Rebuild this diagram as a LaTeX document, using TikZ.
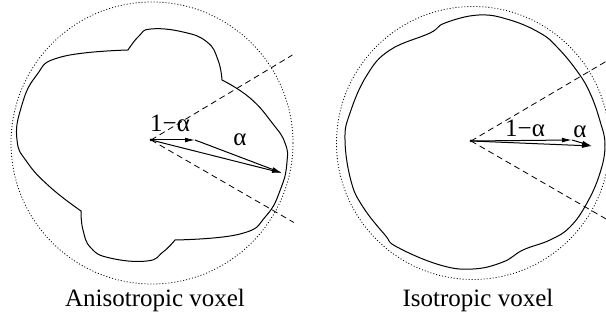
\documentclass[tikz,border=0pt]{standalone}
\usepackage{fontspec}
\setmainfont{Liberation Serif}
\usetikzlibrary{arrows.meta}
\tikzset{outline/.style={line width=.5pt},
 bound/.style={dash pattern=on .5pt off 1pt,line width=.4pt},
 cone/.style={dash pattern=on 3pt off 2pt,line width=.4pt},
 vec/.style={-{Latex[length=5pt,width=2.4pt]},line width=.5pt},
 every node/.style={font=\fontsize{12.5}{15}\selectfont,inner sep=1pt}}
\begin{document}
\begin{tikzpicture}[x=.5pt,y=.5pt]
\clip (0,0) rectangle (606,320);
% anisotropic voxel
\begin{scope}[shift={(151,180)}]
\coordinate (ac) at (0,0);
\coordinate (ap) at (44,0);
\coordinate (aq) at (131,-33);
\draw[bound] (1,-3) circle (141);
\draw[outline] plot[smooth,tension=.8] coordinates {(-23,90) (-12,104) (0,111) (32,108) (56,98) (67,80) (71,60)}
 -- plot[smooth,tension=.8] coordinates {(71,60) (99,42) (122,16) (134,-3) (136,-22) (130,-48) (115,-76) (89,-94) (24,-100)}
 -- plot[smooth,tension=.8] coordinates {(24,-100) (12,-112) (-4,-121) (-41,-118) (-60,-108) (-68,-90) (-70,-71)}
 -- plot[smooth,tension=.8] coordinates {(-70,-71) (-101,-47) (-124,-22) (-134,0) (-130,32) (-115,64) (-90,83) (-23,90)}
 -- cycle;
\draw[cone] (ac) -- (31:165);
\draw[cone] (ac) -- (-30:165);
\draw[vec] (ac) -- (ap);
\draw[vec] (ap) -- (aq);
\draw[vec] (ac) -- (aq);
\fill (ac) circle (1.5);
\node (aone) at (19,17) {1−α};
\node (aalpha) at (89,0) {α};
\node (acap) at (4,-160) {Anisotropic voxel};
\end{scope}
% isotropic voxel
\begin{scope}[shift={(471,179)}]
\coordinate (ic) at (0,0);
\coordinate (ip) at (101,1);
\coordinate (iq) at (121,-5);
\draw[bound] (2,-2) circle (136.5);
\draw[outline] plot[smooth cycle,tension=.7] coordinates {(8,126) (39,121) (69,108) (86,94)
 (106,70) (119,48) (129,20) (134,-4) (129,-32) (116,-62) (99,-86) (79,-99) (52,-109)
 (32,-121) (2,-128) (-31,-124) (-74,-106) (-86,-94) (-108,-66) (-120,-40)
 (-126,1) (-121,28) (-104,66) (-81,91) (-41,108) (-26,118)};
\draw[cone] (ic) -- (30.5:160);
\draw[cone] (ic) -- (-30:160);
\draw[vec] (ic) -- (ip);
\draw[vec] (ip) -- (iq);
\draw[vec] (ic) -- (iq);
\fill (ic) circle (1.5);
\node (ione) at (54,13) {1−α};
\node (ialpha) at (109,9) {α};
\node (icap) at (7,-159) {Isotropic voxel};
\end{scope}
\end{tikzpicture}
\end{document}
